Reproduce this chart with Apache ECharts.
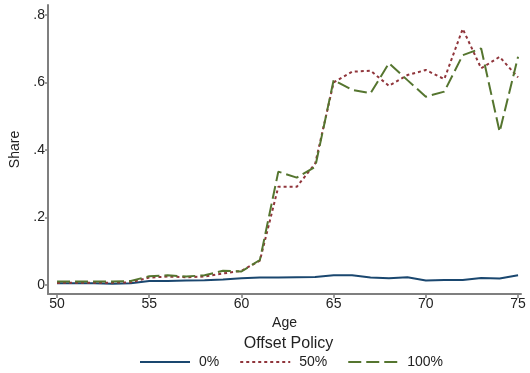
<!DOCTYPE html>
<html><head><meta charset="utf-8">
<script src="https://cdn.jsdelivr.net/npm/echarts@6/dist/echarts.min.js"></script>
<style>html,body{margin:0;padding:0;background:#fff}#c{width:530px;height:373px}</style>
</head><body><div id="c"></div>
<script>
const ages = [50,51,52,53,54,55,56,57,58,59,60,61,62,63,64,65,66,67,68,69,70,71,72,73,74,75];
const policy0 = [0.005,0.005,0.005,0.004,0.005,0.012,0.012,0.013,0.014,0.016,0.02,0.022,0.022,0.023,0.024,0.029,0.029,0.022,0.02,0.023,0.013,0.015,0.015,0.021,0.019,0.029];
const policy50 = [0.006,0.007,0.007,0.007,0.008,0.022,0.025,0.023,0.025,0.034,0.042,0.072,0.291,0.291,0.36,0.6,0.632,0.635,0.59,0.622,0.637,0.61,0.759,0.642,0.676,0.615];
const policy100 = [0.01,0.01,0.01,0.01,0.012,0.026,0.029,0.025,0.029,0.042,0.04,0.074,0.336,0.318,0.35,0.607,0.578,0.568,0.657,0.607,0.558,0.573,0.681,0.701,0.454,0.676];
const seriesNames = ['0%','50%','100%'];
const xTicks = [50,55,60,65,70,75];
const yTicks = [0,0.2,0.4,0.6,0.8];
const yTickLabels = ['0','.2','.4','.6','.8'];

const font = 'Liberation Sans, Arial, Helvetica, sans-serif';
const colors = ['#1a476f','#90353b','#55752f'];
const styles = [
  {type:'solid', width:2},
  {type:[3,3], width:2},
  {type:[13,5], width:2}
];
const datas = [policy0, policy50, policy100];
const chart = echarts.init(document.getElementById('c'), null, {renderer:'canvas'});
chart.setOption({
  animation:false,
  backgroundColor:'#fff',
  title:{text:'Offset Policy', left:283.5, textAlign:'center', top:331,
    textStyle:{fontFamily:font, fontSize:16, fontWeight:'normal', color:'#222'}},
  legend:{left:134, top:350, itemWidth:50, itemHeight:14, itemGap:20,
    data:seriesNames,
    itemStyle:{opacity:0, color:'transparent', borderColor:'transparent', borderWidth:0},
    textStyle:{fontFamily:font, fontSize:14, color:'#222', padding:[0,0,0,4]}},
  grid:{left:48, right:9, top:5, bottom:79},
  xAxis:{type:'value', min:49.51, max:75.16,
    name:'Age', nameLocation:'middle', nameGap:17,
    nameTextStyle:{fontFamily:font, fontSize:14, color:'#222'},
    axisLine:{show:true, onZero:false, lineStyle:{color:'#7f7f7f', width:2}},
    axisTick:{show:true, length:4, customValues:xTicks, lineStyle:{color:'#7f7f7f', width:1.5}},
    axisLabel:{customValues:xTicks, fontFamily:font, fontSize:14, color:'#222', margin:3},
    splitLine:{show:false}},
  yAxis:{type:'value', min:-0.0267, max:0.8296,
    name:'Share', nameLocation:'middle', nameGap:20, nameRotate:90,
    nameTextStyle:{fontFamily:font, fontSize:14, color:'#222'},
    axisLine:{show:true, onZero:false, lineStyle:{color:'#7f7f7f', width:2}},
    axisTick:{show:true, length:3, customValues:yTicks, lineStyle:{color:'#7f7f7f', width:1.5}},
    axisLabel:{customValues:yTicks, fontFamily:font, fontSize:14, color:'#222', margin:3,
      formatter:function(v){const i=yTicks.findIndex(t=>Math.abs(t-v)<1e-6);return i>=0?yTickLabels[i]:'';}},
    splitLine:{show:false}},
  series: seriesNames.map((n,i)=>({
    name:n, type:'line', symbol:'none', showSymbol:false,
    data: ages.map((a,j)=>[a, datas[i][j]]),
    itemStyle:{color:colors[i]},
    lineStyle:Object.assign({color:colors[i]}, styles[i])
  }))
});
</script></body></html>
